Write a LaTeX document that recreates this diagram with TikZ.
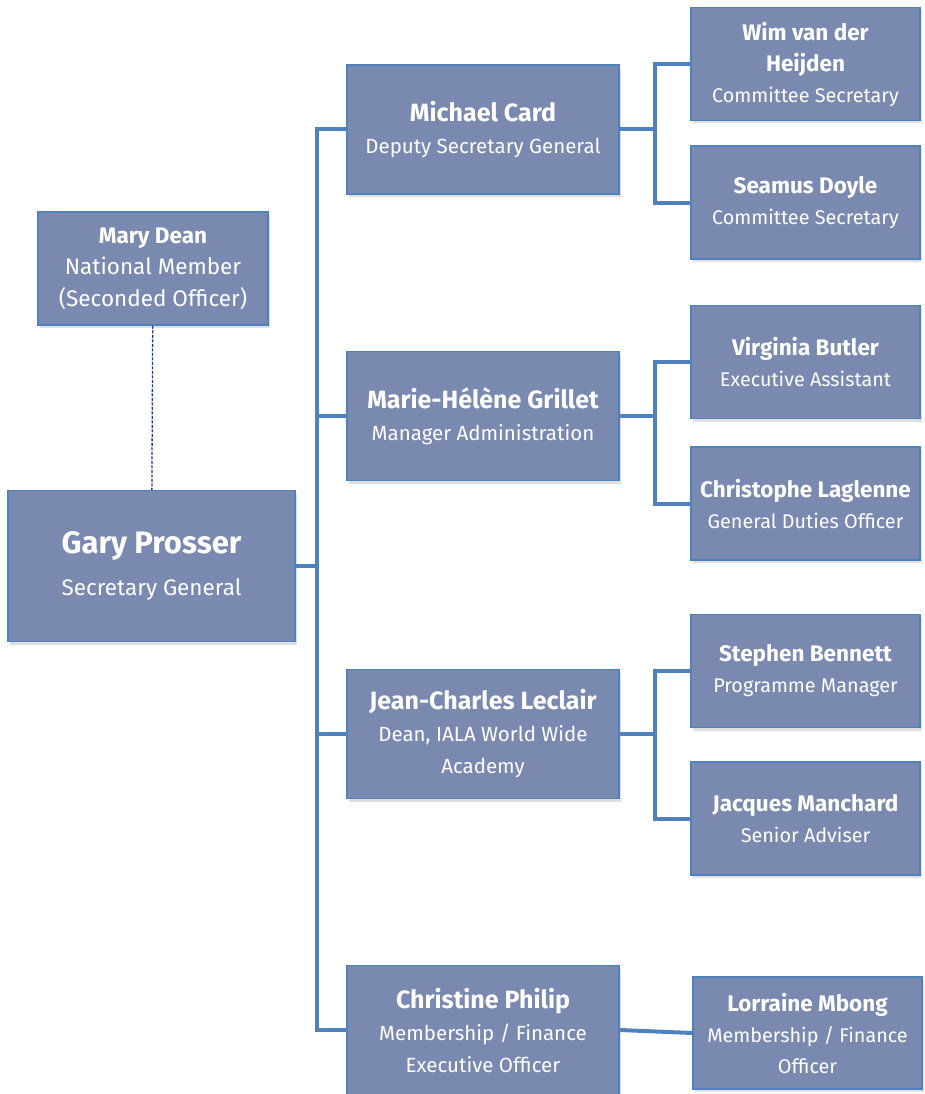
\documentclass[tikz,border=0pt]{standalone}
\usepackage{fontspec}
\setmainfont{Fira Sans}
\usetikzlibrary{shadows}
\definecolor{boxfill}{RGB}{122,137,176}
\definecolor{boxline}{RGB}{79,129,189}
\definecolor{dashline}{RGB}{35,60,135}
\newcommand{\pname}[1]{{\fontsize{22.5}{31}\selectfont\bfseries #1}}
\newcommand{\mname}[1]{{\fontsize{25}{34}\selectfont\bfseries #1}}
\newcommand{\chief}[1]{{\fontsize{31}{42}\selectfont\bfseries #1}}
\begin{document}
\begin{tikzpicture}[x=1pt, y=-1pt,
  box/.style={draw=boxline, line width=1.5pt, fill=boxfill, text=white, align=center,
    inner sep=0pt, font=\fontsize{19.8}{31}\selectfont,
    drop shadow={opacity=0.25, shadow xshift=2pt, shadow yshift=-3pt}},
  mainbox/.style={box, minimum width=272pt, minimum height=129pt, font=\fontsize{20.5}{32}\selectfont},
  staffbox/.style={box, minimum width=229pt, minimum height=113pt},
  link/.style={draw=boxline, line width=4pt},
  dotlink/.style={draw=dashline, line width=1.3pt, dash pattern=on 3pt off 1.5pt}]
\useasboundingbox (0,0) rectangle (924,1094);
% left side
\node[box, minimum width=230pt, minimum height=113pt, font=\fontsize{22.5}{31.5}\selectfont] (P_mary) at (153,268.5) {\pname{Mary Dean}\\ National Member\\ (Seconded Officer)};
\node[box, minimum width=287pt, minimum height=151pt, font=\fontsize{22.5}{42}\selectfont] (P_gary) at (151.5,566) {\chief{Gary Prosser}\\ Secretary General};
\draw[dotlink] (P_mary) -- (P_gary);
\coordinate (T) at (317,566);
\draw[link] (P_gary.east) -- (T);
% middle column
\node[mainbox] (P_card) at (483,129.5) {\mname{Michael Card}\\ Deputy Secretary General};
\draw[link] (P_card.west) -| (T);
\node[mainbox] (P_grillet) at (483,416) {\mname{Marie-Hélène Grillet}\\ Manager Administration};
\draw[link] (P_grillet.west) -| (T);
\node[mainbox] (P_leclair) at (483,734) {\mname{Jean-Charles Leclair}\\ Dean, IALA World Wide\\ Academy};
\draw[link] (P_leclair.west) -| (T);
\node[mainbox] (P_philip) at (483,1030) {\mname{Christine Philip}\\ Membership / Finance\\ Executive Officer};
\draw[link] (P_philip.west) -| (T);
% right column
\coordinate (C1) at (655,129.5);
\draw[link] (P_card.east) -- (C1);
\node[staffbox] (P_heijden) at (805.5,64) {\pname{Wim van der}\\ \pname{Heijden}\\ Committee Secretary};
\draw[link] (P_heijden.west) -| (C1);
\node[staffbox] (P_doyle) at (805.5,202.5) {\pname{Seamus Doyle}\\ Committee Secretary};
\draw[link] (P_doyle.west) -| (C1);
\coordinate (C2) at (655,416);
\draw[link] (P_grillet.east) -- (C2);
\node[staffbox] (P_butler) at (805.5,362) {\pname{Virginia Butler}\\ Executive Assistant};
\draw[link] (P_butler.west) -| (C2);
\node[staffbox] (P_laglenne) at (805.5,503.5) {\pname{Christophe Laglenne}\\ General Duties Officer};
\draw[link] (P_laglenne.west) -| (C2);
\coordinate (C3) at (655,734);
\draw[link] (P_leclair.east) -- (C3);
\node[staffbox] (P_bennett) at (805.5,671) {\pname{Stephen Bennett}\\ Programme Manager};
\draw[link] (P_bennett.west) -| (C3);
\node[staffbox] (P_manchard) at (805.5,818.5) {\pname{Jacques Manchard}\\ Senior Adviser};
\draw[link] (P_manchard.west) -| (C3);
\node[staffbox, minimum height=112pt] (P_mbong) at (807.5,1033) {\pname{Lorraine Mbong}\\ Membership / Finance\\ Officer};
\draw[link] (P_philip.east) -- (P_mbong.west);
\end{tikzpicture}
\end{document}
